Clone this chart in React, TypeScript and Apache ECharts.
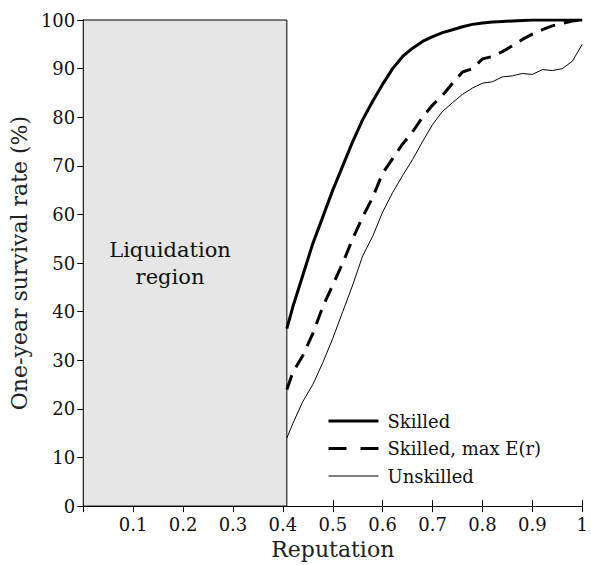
import React, { useEffect, useRef } from "react";
import * as echarts from "echarts";

const reputation = [0.408, 0.42, 0.44, 0.46, 0.48, 0.50, 0.52, 0.54, 0.56, 0.58, 0.60, 0.62, 0.64, 0.66, 0.68, 0.70, 0.72, 0.74, 0.76, 0.78, 0.80, 0.82, 0.84, 0.86, 0.88, 0.90, 0.92, 0.94, 0.96, 0.98, 1.00];
const skilled = [36.5, 41, 47.5, 54, 59.5, 65, 70, 75, 79.5, 83.3, 86.8, 90, 92.5, 94.2, 95.6, 96.6, 97.4, 98, 98.6, 99.1, 99.4, 99.6, 99.7, 99.8, 99.9, 100, 100, 100, 100, 100, 100];
const skilledMaxEr = [24, 27.5, 31, 35.5, 41, 45.5, 50, 55, 59.5, 63.5, 68.5, 71.5, 74.5, 77, 80, 82.5, 84.5, 87, 89.3, 90, 92, 92.5, 93.5, 94.7, 96, 97.1, 98, 98.8, 99.3, 99.8, 100];
const unskilled = [14, 17, 21.5, 25, 29.5, 34.5, 40, 45.5, 51.5, 55.5, 60.5, 64.5, 68, 71.3, 75, 78.5, 81.2, 83, 84.7, 86, 87, 87.3, 88.3, 88.5, 89, 88.8, 89.8, 89.6, 90, 91.5, 95];
const xTicks = [0.1, 0.2, 0.3, 0.4, 0.5, 0.6, 0.7, 0.8, 0.9, 1];
const liquidationBound = [0, 0.408];
const seriesNames = ["Skilled", "Skilled, max E(r)", "Unskilled"];

const FONT = "DejaVu Serif";

export default function App() {
  const ref = useRef<HTMLDivElement>(null);
  useEffect(() => {
    const chart = echarts.init(ref.current!, null, { renderer: "svg" });
    const pair = (ys: number[]) => reputation.map((x, i) => [x, ys[i]]);
    const axisCommon = {
      type: "value" as const,
      axisLine: { show: true, lineStyle: { color: "#000", width: 1 } },
      axisTick: { show: true, inside: true, length: 6, lineStyle: { color: "#000" } },
      splitLine: { show: false },
    };
    chart.setOption({
      animation: false,
      backgroundColor: "#fff",
      grid: { left: 81, right: 5, top: 20, bottom: 54 },
      xAxis: [
        {
          ...axisCommon,
          min: 0,
          max: 1,
          interval: 0.1,
          position: "bottom",
          name: "Reputation",
          nameLocation: "middle",
          nameGap: 28,
          nameTextStyle: { fontFamily: FONT, fontSize: 22, color: "#222" },
          axisLabel: {
            fontFamily: FONT,
            fontSize: 18,
            color: "#111",
            margin: 9,
            formatter: (v: number) => {
              const t = xTicks.find((k) => Math.abs(k - v) < 1e-6);
              return t === undefined ? "" : String(t);
            },
          },
        },
        {
          ...axisCommon,
          min: 0,
          max: 1,
          interval: 0.1,
          position: "top",
          axisLabel: { show: false },
        },
      ],
      yAxis: [
        {
          ...axisCommon,
          min: 0,
          max: 100,
          interval: 10,
          position: "left",
          name: "One-year survival rate (%)",
          nameLocation: "middle",
          nameGap: 46,
          nameTextStyle: { fontFamily: FONT, fontSize: 22, color: "#222" },
          axisLabel: { fontFamily: FONT, fontSize: 18, color: "#111", margin: 8 },
        },
        {
          ...axisCommon,
          min: 0,
          max: 100,
          interval: 10,
          position: "right",
          axisLabel: { show: false },
        },
      ],
      legend: {
        orient: "vertical",
        left: 322,
        top: 407,
        itemWidth: 50,
        itemHeight: 14,
        itemGap: 9.5,
        itemStyle: { opacity: 0 },
        textStyle: { fontFamily: FONT, fontSize: 18, color: "#111", padding: [0, 0, 0, 4] },
        data: [
          { name: seriesNames[0], lineStyle: { width: 3 } },
          { name: seriesNames[1], lineStyle: { width: 3, type: [18, 14] } },
          { name: seriesNames[2], lineStyle: { width: 1 } },
        ],
      },
      series: [
        {
          name: seriesNames[0],
          type: "line",
          data: pair(skilled),
          symbol: "none",
          lineStyle: { color: "#000", width: 3 },
          itemStyle: { color: "#000" },
          z: 3,
          markArea: {
            silent: true,
            itemStyle: { color: "#e6e6e6", borderColor: "#000", borderWidth: 1 },
            data: [[{ xAxis: liquidationBound[0], yAxis: 0 }, { xAxis: liquidationBound[1], yAxis: 100 }]],
          },
        },
        {
          name: seriesNames[1],
          type: "line",
          data: pair(skilledMaxEr),
          symbol: "none",
          lineStyle: { color: "#000", width: 3, type: [15, 9] },
          itemStyle: { color: "#000" },
          z: 3,
        },
        {
          name: seriesNames[2],
          type: "line",
          data: pair(unskilled),
          symbol: "none",
          lineStyle: { color: "#000", width: 1 },
          itemStyle: { color: "#000" },
          z: 3,
        },
      ],
      graphic: [
        {
          type: "text",
          x: 170,
          y: 263,
          z: 10,
          style: {
            text: "Liquidation\nregion",
            fontFamily: FONT,
            fontSize: 21,
            lineHeight: 27,
            fill: "#111",
            textAlign: "center",
            textVerticalAlign: "middle",
          },
        },
      ],
    });
    return () => chart.dispose();
  }, []);
  return (
    <div
      ref={ref}
      style={{ position: "fixed", left: 0, top: 0, width: 591, height: 565 }}
    />
  );
}
